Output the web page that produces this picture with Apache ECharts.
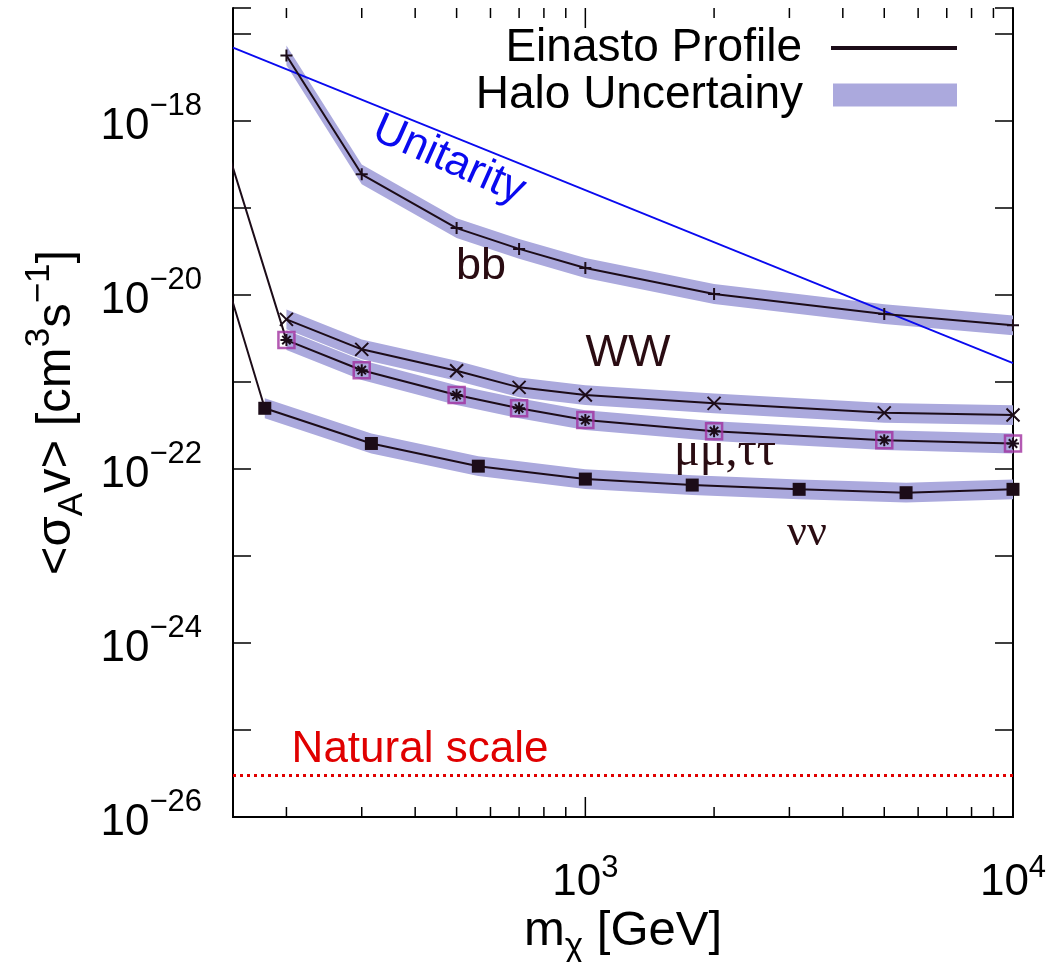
<!DOCTYPE html>
<html><head><meta charset="utf-8">
<script src="https://cdn.jsdelivr.net/npm/echarts@6/dist/echarts.min.js"></script>
<style>html,body{margin:0;padding:0;background:#fff}#c{width:1054px;height:962px}</style>
</head><body><div id="c"></div>
<script>
// ---- data (m_chi in GeV, <sigma v> in cm^3 s^-1) ----
const massBB   = [200, 300, 500, 700, 1000, 2000, 5000, 10000];
const sigmaBB  = [5.7e-18, 2.45e-19, 5.9e-20, 3.4e-20, 2.05e-20, 1.03e-20, 6.05e-21, 4.5e-21];
const massWW   = [200, 300, 500, 700, 1000, 2000, 5000, 10000];
const sigmaWW  = [5.26e-21, 2.38e-21, 1.35e-21, 8.7e-22, 7.1e-22, 5.7e-22, 4.43e-22, 4.18e-22];
const massMM   = [200, 300, 500, 700, 1000, 2000, 5000, 10000];
const sigmaMM  = [3.04e-21, 1.37e-21, 7.1e-22, 5.0e-22, 3.66e-22, 2.73e-22, 2.15e-22, 1.97e-22];
const massMMLead  = [100];
const sigmaMMLead = [1.8e-16];
const massNN   = [178, 316, 562, 1000, 1778, 3162, 5623, 10000];
const sigmaNN  = [5.0e-22, 1.97e-22, 1.08e-22, 7.67e-23, 6.55e-23, 5.85e-23, 5.35e-23, 5.85e-23];
const massNNLead  = [100];
const sigmaNNLead = [6e-18];
const massUnitarity  = [150, 10000];
const sigmaUnitarity = [7.0e-18, 1.65e-21];
const massNatural  = [150, 10000];
const sigmaNatural = [3e-26, 3e-26];
const haloFactor = 1.3;
const xMajorTicks = [1000, 10000];
const xMinorTicks = [200, 300, 400, 500, 600, 700, 800, 900, 2000, 3000, 4000, 5000, 6000, 7000, 8000, 9000];
const yLabelValues = [1e-26, 1e-24, 1e-22, 1e-20, 1e-18];
const xRange = [150, 10000];
const yRange = [1e-26, 2e-17];

// ---- styles ----
const F = '"Liberation Sans", Arial, Helvetica, sans-serif';
const FS = '"Liberation Serif", "DejaVu Serif", serif';
const DARK = '#1c0c18';
const BAND = '#aba9dd';
const LABEL = '#2a0c12';

const chart = echarts.init(document.getElementById('c'), null, {renderer: 'canvas'});

function pairs(ms, vs) { return ms.map((m, i) => [m, vs[i]]); }

function bandSeries(ms, vs) {
  return {
    type: 'custom', name: 'Halo Uncertainy', coordinateSystem: 'cartesian2d',
    xAxisIndex: 0, yAxisIndex: 0, silent: true, z: 1, clip: true,
    itemStyle: {color: BAND},
    data: pairs(ms, vs),
    renderItem: function (params, api) {
      if (params.dataIndex !== 0) return null;
      const up = ms.map((m, i) => api.coord([m, vs[i] * haloFactor]));
      const lo = ms.map((m, i) => api.coord([m, vs[i] / haloFactor])).reverse();
      return {type: 'polygon', shape: {points: up.concat(lo)}, style: {fill: BAND}};
    }
  };
}

function lineSeries(ms, vs, symbol, size, leadM, leadV, fillSym) {
  const data = [];
  if (leadM) leadM.forEach((m, i) => data.push({value: [m, leadV[i]], symbol: 'none'}));
  ms.forEach((m, i) => data.push([m, vs[i]]));
  return {
    type: 'line', name: 'Einasto Profile', data: data, z: 3,
    symbol: symbol, symbolSize: size, showSymbol: true,
    lineStyle: {color: DARK, width: 2},
    itemStyle: {color: DARK, borderColor: DARK, borderWidth: fillSym ? 0 : 2},
    emphasis: {disabled: true}
  };
}

const PLUS = 'path://M0,5L10,5M5,0L5,10';
const CROSS = 'path://M0,0L10,10M10,0L0,10';
const STAR = 'path://M0,5L10,5M5,0L5,10M1.5,1.5L8.5,8.5M8.5,1.5L1.5,8.5';

function expLabel(v) {
  return Math.round(Math.log10(v));
}

function xTickSeries(values, len) {
  return {
    type: 'custom', name: 'x-ticks', silent: true, z: 6,
    xAxisIndex: 0, yAxisIndex: 0,
    data: values.map(v => [v, yRange[0]]),
    renderItem: function (params, api) {
      const cs = params.coordSys;
      const x = api.coord([api.value(0), yRange[0]])[0];
      return {type: 'group', children: [
        {type: 'line', shape: {x1: x, y1: cs.y + cs.height, x2: x, y2: cs.y + cs.height - len}, style: {stroke: '#000', lineWidth: 1.5}},
        {type: 'line', shape: {x1: x, y1: cs.y, x2: x, y2: cs.y + len}, style: {stroke: '#000', lineWidth: 1.5}}
      ]};
    }
  };
}

const yLabelSeries = {
  type: 'custom', name: 'y-labels', silent: true, z: 6, clip: false,
  xAxisIndex: 0, yAxisIndex: 0,
  data: yLabelValues.map(v => [xRange[0], v]),
  renderItem: function (params, api) {
    const cs = params.coordSys;
    const v = api.value(1);
    const y = api.coord([xRange[0], v])[1];
    const e = expLabel(v);
    return {
      type: 'text', x: cs.x - 31, y: y,
      style: {
        text: '{b|10}{e|−' + Math.abs(e) + '}',
        align: 'right', verticalAlign: 'middle',
        fontFamily: F, fontSize: 44, fill: '#000',
        rich: {
          b: {fontSize: 44, lineHeight: 60, padding: [12, 0, 0, 0], fontFamily: F, fill: '#000'},
          e: {fontSize: 31, lineHeight: 31, verticalAlign: 'top', fontFamily: F, fill: '#000'}
        }
      }
    };
  }
};

const axisLineStyle = {show: true, lineStyle: {color: '#000', width: 2}};
const supRich = {fontSize: 35, lineHeight: 35, verticalAlign: 'top', fontFamily: F, color: '#000'};
const subRich = {fontSize: 35, lineHeight: 35, verticalAlign: 'bottom', fontFamily: F, color: '#000'};

const option = {
  animation: false,
  backgroundColor: '#fff',
  textStyle: {fontFamily: F},
  grid: {left: 233, right: 41, top: 8, bottom: 145, containLabel: false, outerBoundsMode: 'none'},
  legend: [
    {
      data: [{name: 'Einasto Profile', icon: 'rect'}],
      right: 92, top: 20, orient: 'vertical', align: 'right',
      itemWidth: 124, itemHeight: 2, selectedMode: false,
      textStyle: {fontSize: 46, fontFamily: F, color: '#000', padding: [0, 25, 0, 0]}
    },
    {
      data: [{name: 'Halo Uncertainy', icon: 'rect'}],
      right: 92, top: 67, orient: 'vertical', align: 'right',
      itemWidth: 124, itemHeight: 23, selectedMode: false,
      textStyle: {fontSize: 46, fontFamily: F, color: '#000', padding: [0, 25, 0, 0]}
    }
  ],
  xAxis: [
    {
      type: 'log', logBase: 10, min: xRange[0], max: xRange[1], position: 'bottom',
      axisLine: axisLineStyle,
      axisTick: {show: false},
      splitLine: {show: false},
      axisLabel: {
        show: true, showMinLabel: false, margin: 36, interval: 0,
        formatter: v => '{b|10}{e|' + expLabel(v) + '}',
        rich: {
          b: {fontSize: 44, lineHeight: 60, fontFamily: F, color: '#000'},
          e: {fontSize: 31, lineHeight: 31, verticalAlign: 'top', fontFamily: F, color: '#000'}
        }
      },
      name: 'm{sub|χ} [GeV]', nameLocation: 'middle', nameGap: 80, nameMoveOverlap: false,
      nameTextStyle: {
        fontSize: 49, lineHeight: 68, fontFamily: F, color: '#000',
        rich: {sub: subRich}
      }
    },
    {
      type: 'log', logBase: 10, min: xRange[0], max: xRange[1], position: 'top',
      axisLine: axisLineStyle,
      axisTick: {show: false},
      axisLabel: {show: false}, splitLine: {show: false}
    }
  ],
  yAxis: [
    {
      type: 'log', logBase: 10, min: yRange[0], max: yRange[1], position: 'left',
      axisLine: axisLineStyle,
      axisTick: {show: true, inside: true, length: 18, lineStyle: {color: '#000', width: 1.5}},
      splitLine: {show: false},
      axisLabel: {show: false},
      name: '<σ{sub|A}v> [cm{sup|3}s{sup|−1}]', nameLocation: 'middle', nameGap: 143, nameRotate: 90,
      nameMoveOverlap: false,
      nameTextStyle: {
        fontSize: 49, lineHeight: 68, fontFamily: F, color: '#000',
        rich: {sub: subRich, sup: supRich}
      }
    },
    {
      type: 'log', logBase: 10, min: yRange[0], max: yRange[1], position: 'right',
      axisLine: axisLineStyle,
      axisTick: {show: true, inside: true, length: 18, lineStyle: {color: '#000', width: 1.5}},
      axisLabel: {show: false}, splitLine: {show: false}
    }
  ],
  series: [
    bandSeries(massBB, sigmaBB),
    bandSeries(massWW, sigmaWW),
    bandSeries(massMM, sigmaMM),
    bandSeries(massNN, sigmaNN),
    {
      type: 'line', name: 'Unitarity', data: pairs(massUnitarity, sigmaUnitarity), z: 2,
      symbol: 'none', lineStyle: {color: '#0a0aef', width: 1.8}, emphasis: {disabled: true}
    },
    {
      type: 'line', name: 'Natural scale', data: pairs(massNatural, sigmaNatural), z: 2,
      symbol: 'none', lineStyle: {color: '#e00000', width: 3, type: [3, 4]}, emphasis: {disabled: true}
    },
    lineSeries(massBB, sigmaBB, PLUS, 12),
    lineSeries(massWW, sigmaWW, CROSS, 13),
    {
      type: 'scatter', name: 'mm-box', data: pairs(massMM, sigmaMM), z: 4,
      symbol: 'rect', symbolSize: 16,
      itemStyle: {color: 'rgba(0,0,0,0)', borderColor: '#a0309f', borderWidth: 2.5},
      emphasis: {disabled: true}
    },
    lineSeries(massMM, sigmaMM, STAR, 12, massMMLead, sigmaMMLead),
    lineSeries(massNN, sigmaNN, 'rect', 13, massNNLead, sigmaNNLead, true),
    xTickSeries(xMajorTicks, 20),
    xTickSeries(xMinorTicks, 10),
    yLabelSeries
  ],
  graphic: [
    {type: 'text', x: 449, y: 160, rotation: -24 * Math.PI / 180, z: 10,
      style: {text: 'Unitarity', fontSize: 44, fontFamily: F, fill: '#0a0aef', align: 'center', verticalAlign: 'middle'}},
    {type: 'text', x: 481, y: 267, z: 10,
      style: {text: 'bb', fontSize: 45, fontFamily: F, fill: LABEL, align: 'center', verticalAlign: 'middle'}},
    {type: 'text', x: 628, y: 354, z: 10,
      style: {text: 'WW', fontSize: 45, fontFamily: F, fill: LABEL, align: 'center', verticalAlign: 'middle'}},
    {type: 'text', x: 725, y: 452, z: 10,
      style: {text: 'μμ,ττ', fontSize: 48, fontFamily: FS, fill: LABEL, align: 'center', verticalAlign: 'middle'}},
    {type: 'text', x: 807, y: 533, z: 10,
      style: {text: 'νν', fontSize: 44, fontFamily: FS, fill: LABEL, align: 'center', verticalAlign: 'middle'}},
    {type: 'text', x: 420, y: 750, z: 10,
      style: {text: 'Natural scale', fontSize: 44, fontFamily: F, fill: '#e00000', align: 'center', verticalAlign: 'middle'}}
  ]
};
chart.setOption(option);
</script>
</body></html>
